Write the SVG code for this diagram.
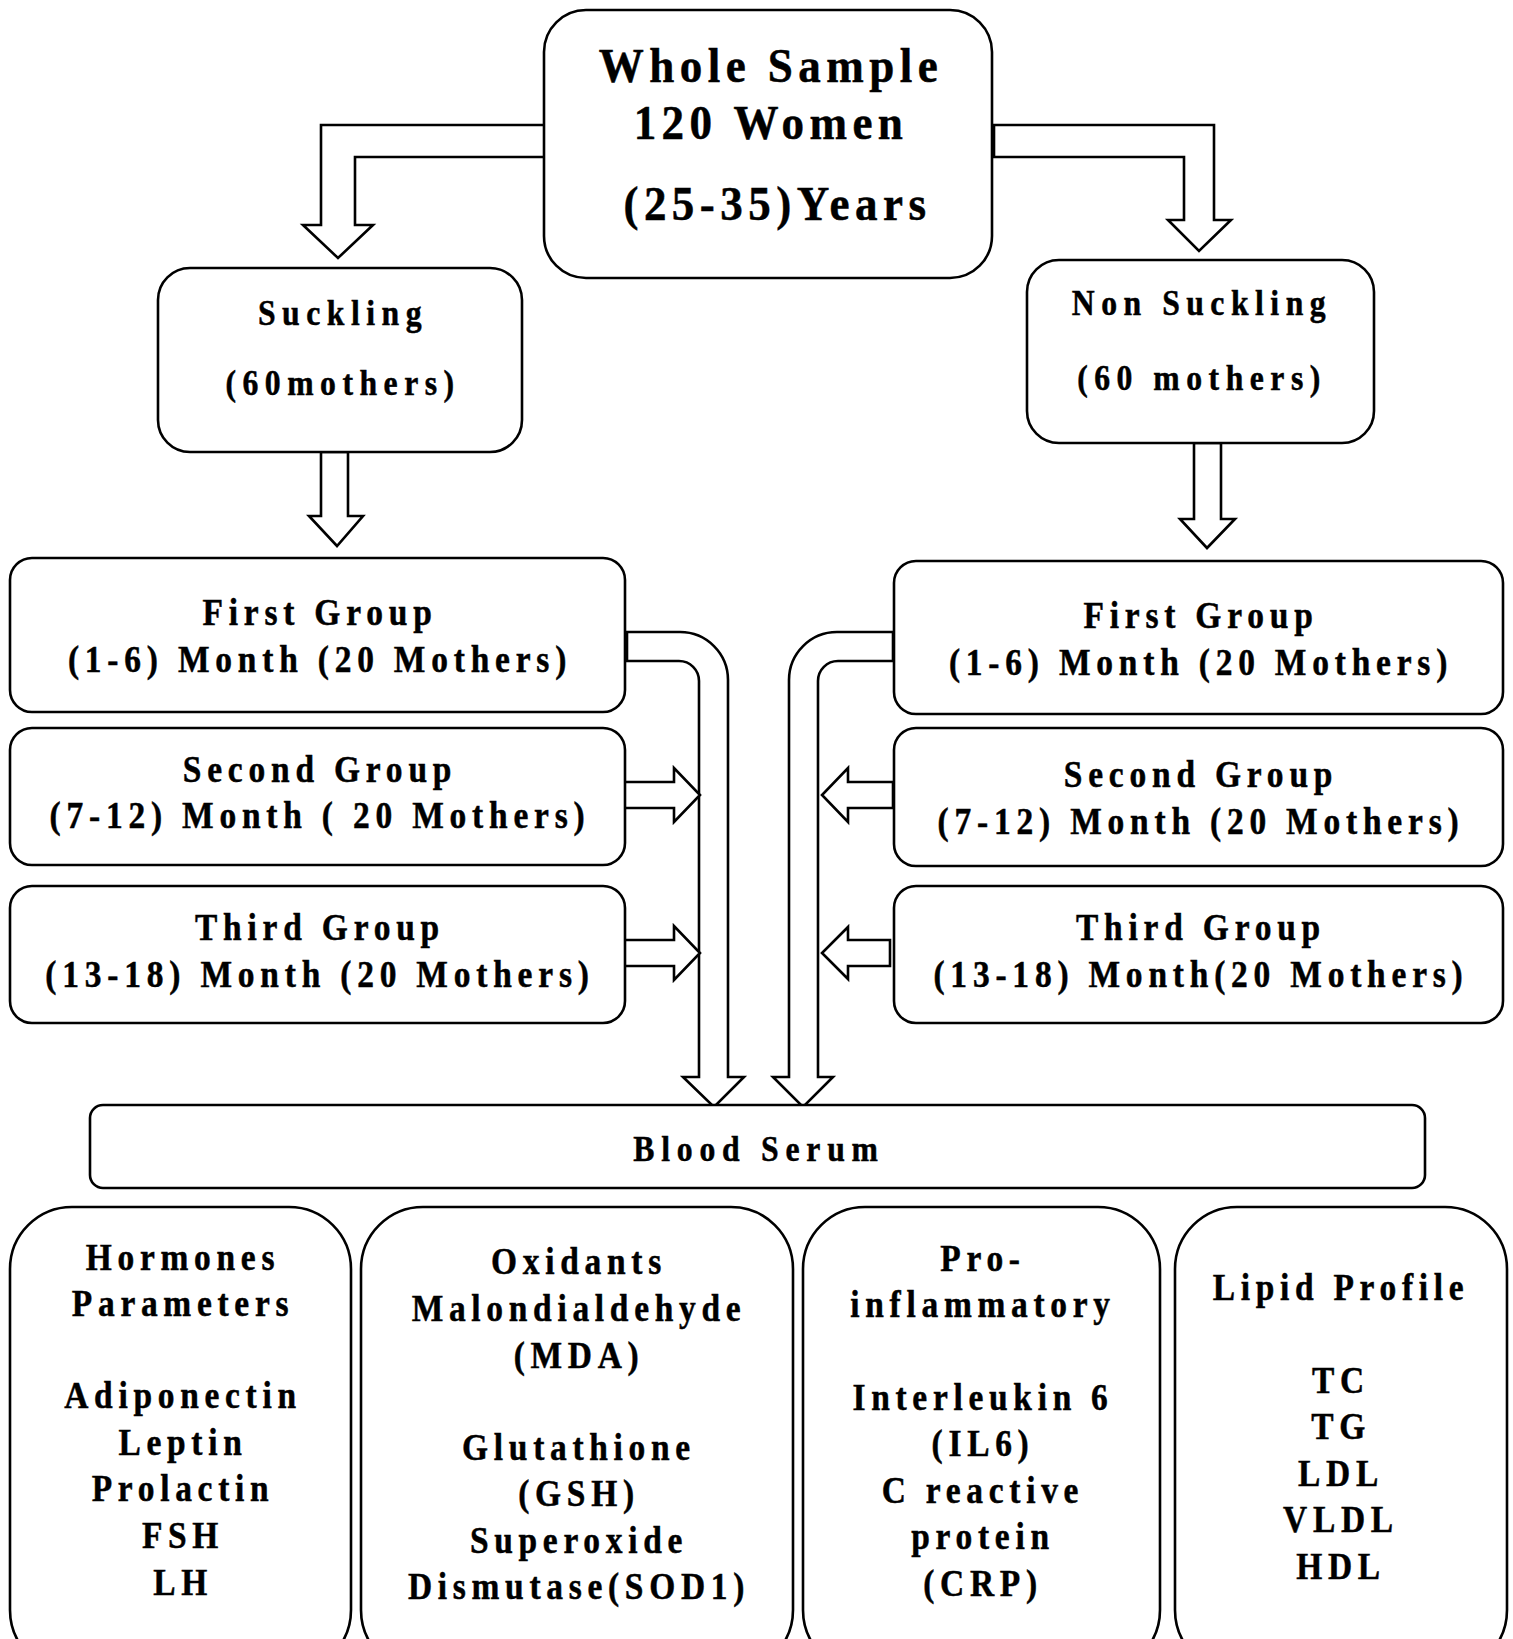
<svg xmlns="http://www.w3.org/2000/svg" width="1513" height="1639" viewBox="0 0 1513 1639">
<style>
.box{fill:#fff;stroke:#000;stroke-width:2.6}
.arr{fill:#fff;stroke:#000;stroke-width:2.6;stroke-linejoin:miter}
text{font-family:"Liberation Serif","Times New Roman",serif;font-weight:bold;fill:#000;stroke:#000;stroke-width:0.5;text-anchor:middle}
.t1{font-size:49px;letter-spacing:5.9px}
.t2{font-size:36px;letter-spacing:7.4px}
.t3{font-size:38px;letter-spacing:6.6px}
.t4{font-size:36px;letter-spacing:7.7px}
.t5{font-size:38px;letter-spacing:6.5px}
</style>
<rect width="1513" height="1639" fill="#fff"/>
<g id="connectors">
<path class="arr" d="M546,125 H321 V225 H303 L338,258 L373,225 H355 V157 H546 Z"/>
<path class="arr" d="M994,125 H1214 V220 H1231 L1199,251 L1168,220 H1184 V157 H994 Z"/>
<path class="arr" d="M321,452 H348 V516 H363 L337,546 L309,516 H321 Z"/>
<path class="arr" d="M1194,443 H1221 V519 H1235 L1207,548 L1180,519 H1194 Z"/>
<path class="arr" d="M627,632 H680 A48,48 0 0 1 728,680 V1077 H744 L714,1107 L683,1077 H699 V681 A20,20 0 0 0 679,661 H627 Z"/>
<path class="arr" d="M893,632 H837 A48,48 0 0 0 789,680 V1077 H773 L803,1107 L833,1077 H818 V681 A20,20 0 0 1 838,661 H893 Z"/>
<path class="arr" d="M623,782 H674 V768 L700,795 L674,822 V808 H623 Z"/>
<path class="arr" d="M623,940 H674 V926 L700,953 L674,980 V966 H623 Z"/>
<path class="arr" d="M893,782 H848 V768 L822,795 L848,822 V808 H893 Z"/>
<path class="arr" d="M890,940 H848 V927 L822,953 L848,979 V966 H890 Z"/>
</g>
<g id="whole-sample">
<rect class="box" x="544" y="10" width="448" height="268" rx="42"/>
<g transform="translate(771 0) scale(0.92 1)">
<text class="t1" x="0" y="82">Whole Sample</text>
<text class="t1" x="0" y="139">120 Women</text>
<text class="t1" x="7" y="220">(25-35)Years</text>
</g>
</g>
<g id="suckling">
<rect class="box" x="158" y="268" width="364" height="184" rx="32"/>
<g transform="translate(343 0) scale(0.88 1)">
<text class="t2" x="0" y="325">Suckling</text>
<text class="t2" x="0" y="395">(60mothers)</text>
</g>
</g>
<g id="non-suckling">
<rect class="box" x="1027" y="260" width="347" height="183" rx="32"/>
<g transform="translate(1202 0) scale(0.88 1)">
<text class="t2" x="0" y="315">Non Suckling</text>
<text class="t2" x="0" y="390">(60 mothers)</text>
</g>
</g>
<g id="s-first">
<rect class="box" x="10" y="558" width="615" height="154" rx="22"/>
<g transform="translate(320 0) scale(0.88 1)">
<text class="t3" x="0" y="625">First Group</text>
<text class="t3" x="0" y="672">(1-6) Month (20 Mothers)</text>
</g>
</g>
<g id="s-second">
<rect class="box" x="10" y="728" width="615" height="137" rx="22"/>
<g transform="translate(320 0) scale(0.88 1)">
<text class="t3" x="0" y="782">Second Group</text>
<text class="t3" x="0" y="828">(7-12) Month ( 20 Mothers)</text>
</g>
</g>
<g id="s-third">
<rect class="box" x="10" y="886" width="615" height="137" rx="22"/>
<g transform="translate(320 0) scale(0.88 1)">
<text class="t3" x="0" y="940">Third Group</text>
<text class="t3" x="0" y="987">(13-18) Month (20 Mothers)</text>
</g>
</g>
<g id="n-first">
<rect class="box" x="894" y="561" width="609" height="153" rx="22"/>
<g transform="translate(1201 0) scale(0.88 1)">
<text class="t3" x="0" y="628">First Group</text>
<text class="t3" x="0" y="675">(1-6) Month (20 Mothers)</text>
</g>
</g>
<g id="n-second">
<rect class="box" x="894" y="728" width="609" height="138" rx="22"/>
<g transform="translate(1201 0) scale(0.88 1)">
<text class="t3" x="0" y="787">Second Group</text>
<text class="t3" x="0" y="834">(7-12) Month (20 Mothers)</text>
</g>
</g>
<g id="n-third">
<rect class="box" x="894" y="886" width="609" height="137" rx="22"/>
<g transform="translate(1201 0) scale(0.88 1)">
<text class="t3" x="0" y="940">Third Group</text>
<text class="t3" x="0" y="987">(13-18) Month(20 Mothers)</text>
</g>
</g>
<g id="blood-serum">
<rect class="box" x="90" y="1105" width="1335" height="83" rx="13"/>
<g transform="translate(759 0) scale(0.88 1)">
<text class="t4" x="0" y="1161">Blood Serum</text>
</g>
</g>
<g id="hormones">
<rect class="box" x="10" y="1207" width="341" height="465" rx="62"/>
<g transform="translate(183 0) scale(0.88 1)">
<text class="t5" x="0" y="1270">Hormones</text>
<text class="t5" x="0" y="1316">Parameters</text>
<text class="t5" x="0" y="1408">Adiponectin</text>
<text class="t5" x="0" y="1455">Leptin</text>
<text class="t5" x="0" y="1501">Prolactin</text>
<text class="t5" x="0" y="1548">FSH</text>
<text class="t5" x="0" y="1595">LH</text>
</g>
</g>
<g id="oxidants">
<rect class="box" x="361" y="1207" width="432" height="465" rx="62"/>
<g transform="translate(579 0) scale(0.88 1)">
<text class="t5" x="0" y="1274">Oxidants</text>
<text class="t5" x="0" y="1321">Malondialdehyde</text>
<text class="t5" x="0" y="1368">(MDA)</text>
<text class="t5" x="0" y="1460">Glutathione</text>
<text class="t5" x="0" y="1506">(GSH)</text>
<text class="t5" x="0" y="1553">Superoxide</text>
<text class="t5" x="0" y="1599">Dismutase(SOD1)</text>
</g>
</g>
<g id="pro-inflammatory">
<rect class="box" x="803" y="1207" width="357" height="465" rx="62"/>
<g transform="translate(983 0) scale(0.88 1)">
<text class="t5" x="0" y="1271">Pro-</text>
<text class="t5" x="0" y="1317">inflammatory</text>
<text class="t5" x="0" y="1410">Interleukin 6</text>
<text class="t5" x="0" y="1456">(IL6)</text>
<text class="t5" x="0" y="1503">C reactive</text>
<text class="t5" x="0" y="1549">protein</text>
<text class="t5" x="0" y="1596">(CRP)</text>
</g>
</g>
<g id="lipid-profile">
<rect class="box" x="1175" y="1207" width="332" height="465" rx="62"/>
<g transform="translate(1341 0) scale(0.88 1)">
<text class="t5" x="0" y="1300">Lipid Profile</text>
<text class="t5" x="0" y="1393">TC</text>
<text class="t5" x="0" y="1439">TG</text>
<text class="t5" x="0" y="1486">LDL</text>
<text class="t5" x="0" y="1532">VLDL</text>
<text class="t5" x="0" y="1579">HDL</text>
</g>
</g>
</svg>
